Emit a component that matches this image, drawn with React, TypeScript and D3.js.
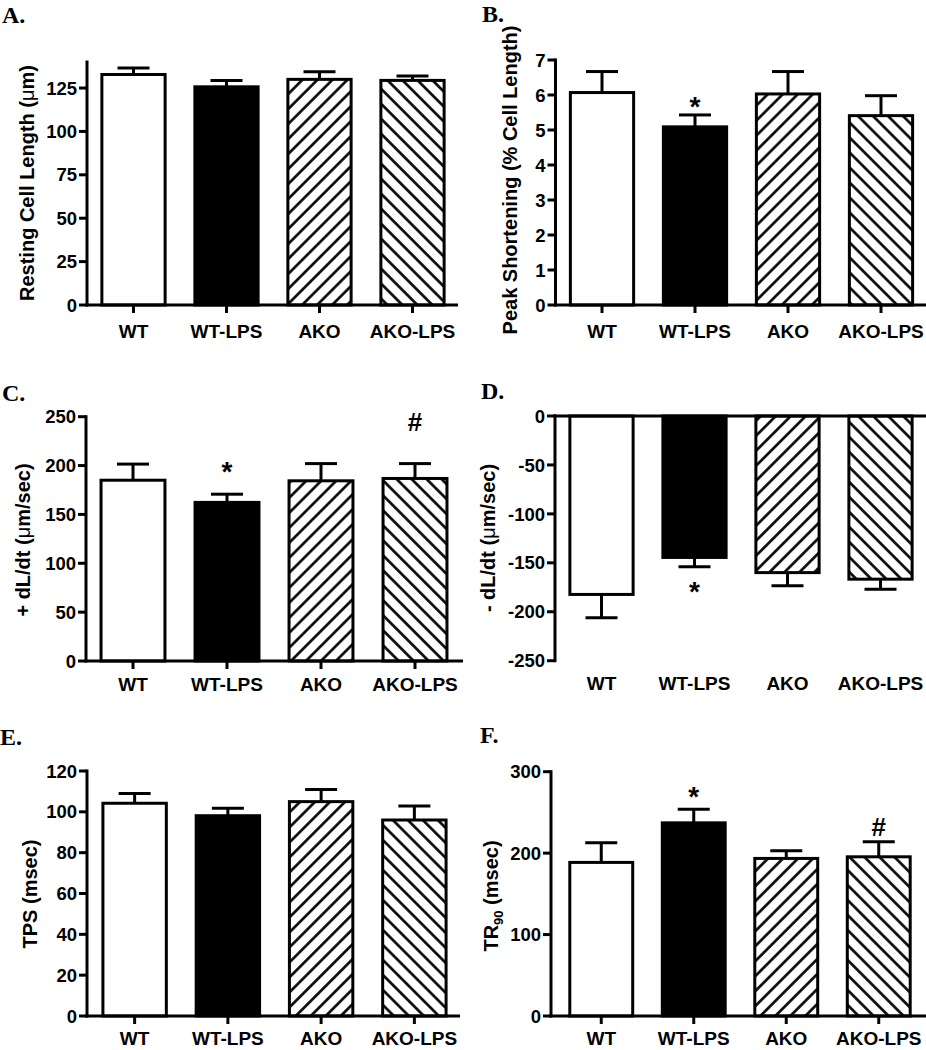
import React from "react";
import * as d3 from "d3";

const categories = ["WT", "WT-LPS", "AKO", "AKO-LPS"];
const fills = ["#ffffff", "#000000", "url(#hatchFwd)", "url(#hatchBack)"];

const restingLength = [132.8, 125.7, 130.0, 129.4];
const restingLengthErr = [3.8, 3.7, 4.4, 2.5];
const peakShortening = [6.07, 5.09, 6.03, 5.41];
const peakShorteningErr = [0.6, 0.34, 0.64, 0.57];
const plusDLdt = [185, 162.3, 184.4, 186.8];
const plusDLdtErr = [16.5, 8.4, 17.6, 15.2];
const minusDLdt = [-182.3, -144.5, -160, -166.7];
const minusDLdtErr = [23.7, 9.5, 13.5, 10.3];
const tps = [104.2, 98.1, 105, 96];
const tpsErr = [4.8, 3.6, 6.0, 6.8];
const tr90 = [188.6, 237.2, 193.5, 195.5];
const tr90Err = [24.1, 16.8, 9.4, 18.4];

const ticksA = [0, 25, 50, 75, 100, 125];
const ticksB = [0, 1, 2, 3, 4, 5, 6, 7];
const ticksC = [0, 50, 100, 150, 200, 250];
const ticksD = [-250, -200, -150, -100, -50, 0];
const ticksE = [0, 20, 40, 60, 80, 100, 120];
const ticksF = [0, 100, 200, 300];

const markersB = [{ cat: "WT-LPS", sym: "*", v: 5.86 }];
const markersC = [
  { cat: "WT-LPS", sym: "*", v: 200.4 },
  { cat: "AKO-LPS", sym: "#", v: 244.7 },
];
const markersD = [{ cat: "WT-LPS", sym: "*", v: -172.8 }];
const markersF = [
  { cat: "WT-LPS", sym: "*", v: 277 },
  { cat: "AKO-LPS", sym: "#", v: 232.3 },
];

const SANS = "'Liberation Sans', Arial, Helvetica, sans-serif";
const SERIF = "'Liberation Serif', 'Times New Roman', serif";

type Marker = { cat: string; sym: string; v: number };
type Panel = {
  letter: string;
  lx: number;
  ly: number;
  axisX: number;
  axisEnd: number;
  xr: [number, number];
  yDomain: [number, number];
  yRange: [number, number];
  ticks: number[];
  values: number[];
  errs: number[];
  title: React.ReactNode;
  titleX: number;
  titleY: number;
  titleSize: number;
  catY: number;
  markers: Marker[];
  negative?: boolean;
};

const panels: Panel[] = [
  {
    letter: "A.", lx: 2, ly: 23, axisX: 87, axisEnd: 458, xr: [87, 459],
    yDomain: [0, 140], yRange: [305, 62], ticks: ticksA,
    values: restingLength, errs: restingLengthErr,
    title: <>Resting Cell Length (<tspan fontWeight="normal">μ</tspan>m)</>,
    titleX: 34, titleY: 183, titleSize: 20, catY: 338, markers: [],
  },
  {
    letter: "B.", lx: 482, ly: 22, axisX: 555.5, axisEnd: 926, xr: [555.5, 927.5],
    yDomain: [0, 7], yRange: [305, 60], ticks: ticksB,
    values: peakShortening, errs: peakShorteningErr,
    title: <>Peak Shortening (% Cell Length)</>,
    titleX: 517, titleY: 180, titleSize: 20, catY: 338, markers: markersB,
  },
  {
    letter: "C.", lx: 2, ly: 401, axisX: 86, axisEnd: 463, xr: [86, 462],
    yDomain: [0, 250], yRange: [661, 416.7], ticks: ticksC,
    values: plusDLdt, errs: plusDLdtErr,
    title: <>+ dL/dt (<tspan fontWeight="normal">μ</tspan>m/sec)</>,
    titleX: 30, titleY: 540, titleSize: 20, catY: 691, markers: markersC,
  },
  {
    letter: "D.", lx: 481, ly: 399, axisX: 555, axisEnd: 926, xr: [555, 927],
    yDomain: [-250, 0], yRange: [660.7, 416], ticks: ticksD,
    values: minusDLdt, errs: minusDLdtErr,
    title: <>- dL/dt (<tspan fontWeight="normal">μ</tspan>m/sec)</>,
    titleX: 495, titleY: 538, titleSize: 20, catY: 690, markers: markersD, negative: true,
  },
  {
    letter: "E.", lx: 0, ly: 745, axisX: 87, axisEnd: 460, xr: [88, 461],
    yDomain: [0, 120], yRange: [1016, 771], ticks: ticksE,
    values: tps, errs: tpsErr,
    title: <>TPS (msec)</>,
    titleX: 37, titleY: 894, titleSize: 20, catY: 1045, markers: [],
  },
  {
    letter: "F.", lx: 480, ly: 743, axisX: 551, axisEnd: 926, xr: [555, 925],
    yDomain: [0, 300], yRange: [1016, 771.7], ticks: ticksF,
    values: tr90, errs: tr90Err,
    title: <>TR<tspan fontSize="13" dy="5">90</tspan><tspan dy="-5"> (msec)</tspan></>,
    titleX: 498, titleY: 896, titleSize: 20, catY: 1045, markers: markersF,
  },
];

function PanelView({ p }: { p: Panel }) {
  const x = d3.scaleBand<string>().domain(categories).range(p.xr).paddingInner(0.32).paddingOuter(0.16);
  const y = d3.scaleLinear().domain(p.yDomain).range(p.yRange);
  const y0 = y(0);
  const bw = x.bandwidth();
  const capHalf = 16;
  const yTop = Math.min(p.yRange[0], p.yRange[1]);
  const yBot = Math.max(p.yRange[0], p.yRange[1]);
  return (
    <g>
      <text x={p.lx} y={p.ly} fontFamily={SERIF} fontWeight="bold" fontSize={24}>{p.letter}</text>
      {categories.map((c, i) => {
        const v = p.values[i];
        const yv = y(v);
        const bx = x(c)!;
        const cx = bx + bw / 2;
        const capV = v >= 0 ? v + p.errs[i] : v - p.errs[i];
        const yc = y(capV);
        return (
          <g key={c}>
            <line x1={cx} x2={cx} y1={yv} y2={yc} stroke="#000" strokeWidth={3} />
            <line x1={cx - capHalf} x2={cx + capHalf} y1={yc} y2={yc} stroke="#000" strokeWidth={3} />
            <rect x={bx} y={Math.min(yv, y0)} width={bw} height={Math.abs(y0 - yv)} fill={fills[i]} stroke="#000" strokeWidth={3} />
          </g>
        );
      })}
      <line x1={p.axisX} x2={p.axisX} y1={yTop - 1.5} y2={yBot + 1.5} stroke="#000" strokeWidth={3} />
      {p.ticks.map((t) => (
        <g key={t}>
          <line x1={p.axisX - 8} x2={p.axisX} y1={y(t)} y2={y(t)} stroke="#000" strokeWidth={3} />
          <text x={p.axisX - 10} y={y(t)} dy="0.36em" textAnchor="end" fontFamily={SANS} fontWeight="bold" fontSize={18.5}>{t}</text>
        </g>
      ))}
      <line x1={p.axisX - 1.5} x2={p.axisEnd} y1={y0} y2={y0} stroke="#000" strokeWidth={3} />
      {!p.negative && categories.map((c) => (
        <line key={c} x1={x(c)! + bw / 2} x2={x(c)! + bw / 2} y1={y0} y2={y0 + 8} stroke="#000" strokeWidth={3} />
      ))}
      {categories.map((c) => (
        <text key={c} x={x(c)! + bw / 2} y={p.catY} textAnchor="middle" fontFamily={SANS} fontWeight="bold" fontSize={19}>{c}</text>
      ))}
      <text transform={`translate(${p.titleX},${p.titleY}) rotate(-90)`} textAnchor="middle" fontFamily={SANS} fontWeight="bold" fontSize={p.titleSize}>{p.title}</text>
      {p.markers.map((m, k) => {
        const cx = x(m.cat)! + bw / 2;
        const cy = y(m.v);
        const size = m.sym === "*" ? 28 : 26;
        const off = m.sym === "*" ? 0.57 * size : 0.35 * size;
        return (
          <text key={k} x={cx} y={cy + off} textAnchor="middle" fontFamily={SANS} fontWeight="bold" fontSize={size}>{m.sym}</text>
        );
      })}
    </g>
  );
}

export default function App() {
  const hs = 10.6;
  return (
    <div style={{ position: "absolute", left: 0, top: 0 }}>
      <svg width={926} height={1050} viewBox="0 0 926 1050" style={{ display: "block", background: "#fff" }}>
        <defs>
          <pattern id="hatchFwd" patternUnits="userSpaceOnUse" width={hs} height={hs} patternTransform="rotate(45)">
            <rect width={hs} height={hs} fill="#fff" />
            <line x1={hs / 2} x2={hs / 2} y1={0} y2={hs} stroke="#000" strokeWidth={2.6} />
          </pattern>
          <pattern id="hatchBack" patternUnits="userSpaceOnUse" width={hs} height={hs} patternTransform="rotate(-45)">
            <rect width={hs} height={hs} fill="#fff" />
            <line x1={hs / 2} x2={hs / 2} y1={0} y2={hs} stroke="#000" strokeWidth={2.6} />
          </pattern>
        </defs>
        <rect width={926} height={1050} fill="#fff" />
        {panels.map((p) => (
          <PanelView key={p.letter} p={p} />
        ))}
      </svg>
    </div>
  );
}
